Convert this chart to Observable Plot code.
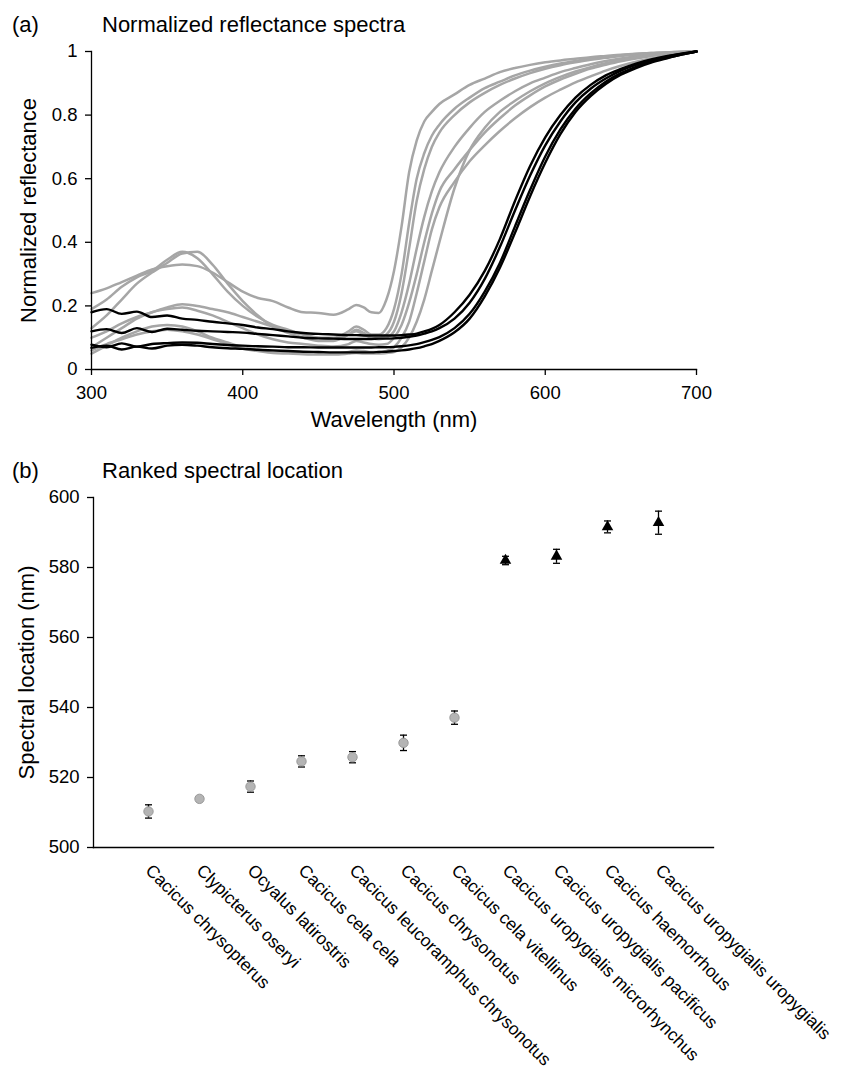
<!DOCTYPE html>
<html><head><meta charset="utf-8">
<script src="https://cdn.jsdelivr.net/npm/d3@7"></script>
<script src="https://cdn.jsdelivr.net/npm/@observablehq/plot@0.6"></script>
<style>
body{margin:0;background:#fff;font-family:"Liberation Sans",Arial,sans-serif;}
#wrap{position:relative;width:865px;height:1073px;overflow:hidden;background:#fff;}
.p{position:absolute;left:0;}
.t{position:absolute;font-size:22px;line-height:22px;white-space:nowrap;color:#000;font-family:"Liberation Sans",Arial,sans-serif;}
</style></head><body>
<div id="wrap">
  <div id="pa" class="p" style="top:0px"></div>
  <div id="pb" class="p" style="top:440px"></div>
  <div class="t" style="left:12px;top:14px">(a)</div>
  <div class="t" style="left:102px;top:14px">Normalized reflectance spectra</div>
  <div class="t" style="left:12px;top:460px">(b)</div>
  <div class="t" style="left:102px;top:460px">Ranked spectral location</div>
</div>
<script>
// ---------- Panel (a) data: normalized reflectance spectra ----------
const wavelengths = [300,310,320,330,340,350,360,370,380,390,400,410,420,430,440,450,460,470,475,480,485,490,495,500,505,510,515,520,525,530,540,550,560,570,580,590,600,610,620,630,640,650,660,670,680,690,700];

const gray1 = [0.24,0.255,0.275,0.295,0.315,0.325,0.33,0.325,0.305,0.275,
  0.245,0.225,0.215,0.195,0.18,0.178,0.172,0.19,
  0.203,0.195,0.18,0.178,0.22,0.31,0.45,0.62,0.72,0.78,0.81,0.835,
  0.865,0.895,0.915,0.935,0.948,0.958,0.966,0.972,0.977,0.982,0.986,0.99,0.993,0.995,0.997,0.998,1.0];
const gray2 = [0.19,0.22,0.26,0.29,0.31,0.345,0.37,0.35,0.3,0.245,
  0.2,0.165,0.14,0.125,0.11,0.1,0.1,0.12,
  0.135,0.125,0.11,0.11,0.13,0.19,0.3,0.46,0.6,0.68,0.735,0.77,
  0.82,0.855,0.885,0.905,0.925,0.94,0.952,0.962,0.97,0.977,0.983,0.988,0.992,0.995,0.997,0.999,1.0];
const gray3 = [0.13,0.17,0.22,0.27,0.305,0.335,0.365,0.37,0.33,0.27,
  0.215,0.17,0.135,0.115,0.1,0.09,0.09,0.11,
  0.125,0.115,0.1,0.1,0.11,0.15,0.24,0.38,0.53,0.63,0.7,0.745,
  0.8,0.84,0.87,0.895,0.915,0.932,0.946,0.957,0.966,0.974,0.98,0.986,0.99,0.994,0.997,0.999,1.0];
const gray4 = [0.1,0.12,0.145,0.165,0.18,0.195,0.205,0.2,0.19,0.18,
  0.165,0.15,0.135,0.12,0.11,0.1,0.095,0.11,
  0.12,0.11,0.1,0.095,0.1,0.12,0.18,0.27,0.38,0.48,0.56,0.62,
  0.7,0.76,0.81,0.845,0.875,0.9,0.918,0.935,0.948,0.96,0.97,0.978,0.985,0.99,0.995,0.998,1.0];
const gray5 = [0.07,0.1,0.13,0.16,0.18,0.19,0.195,0.185,0.17,0.15,
  0.13,0.11,0.095,0.085,0.08,0.075,0.072,0.08,
  0.09,0.085,0.08,0.078,0.08,0.1,0.14,0.21,0.3,0.4,0.49,0.56,
  0.63,0.69,0.745,0.79,0.83,0.862,0.89,0.912,0.93,0.946,0.958,0.969,0.978,0.986,0.992,0.997,1.0];
const gray6 = [0.05,0.075,0.1,0.12,0.135,0.14,0.135,0.12,0.1,0.085,
  0.07,0.062,0.058,0.055,0.052,0.05,0.05,0.055,
  0.06,0.058,0.055,0.055,0.058,0.07,0.1,0.15,0.24,0.34,0.44,0.51,
  0.59,0.655,0.705,0.75,0.79,0.825,0.855,0.88,0.903,0.922,0.94,0.955,0.968,0.978,0.988,0.995,1.0];
const gray7 = [0.06,0.08,0.095,0.11,0.12,0.125,0.12,0.11,0.095,0.08,
  0.065,0.058,0.052,0.05,0.048,0.047,0.047,0.05,
  0.052,0.05,0.05,0.05,0.052,0.055,0.07,0.1,0.15,0.22,0.31,0.4,
  0.57,0.69,0.76,0.81,0.845,0.875,0.9,0.92,0.937,0.951,0.963,0.973,0.981,0.988,0.993,0.997,1.0];

const black1 = [0.18,0.19,0.175,0.182,0.165,0.17,0.16,0.156,0.15,0.145,
  0.14,0.132,0.127,0.12,0.115,0.112,0.11,0.108,
  0.108,0.107,0.107,0.107,0.107,0.107,0.108,0.11,0.113,0.12,0.128,0.14,
  0.18,0.235,0.31,0.41,0.53,0.64,0.73,0.8,0.855,0.895,0.925,0.945,0.962,0.975,0.985,0.993,1.0];
const black2 = [0.12,0.127,0.115,0.13,0.118,0.128,0.125,0.122,0.12,0.118,
  0.116,0.112,0.108,0.104,0.1,0.098,0.097,0.096,
  0.096,0.096,0.096,0.097,0.097,0.098,0.1,0.103,0.107,0.113,0.12,0.13,
  0.16,0.21,0.285,0.385,0.5,0.61,0.705,0.78,0.84,0.883,0.915,0.94,0.958,0.972,0.983,0.992,1.0];
const black3 = [0.078,0.07,0.082,0.072,0.08,0.083,0.085,0.084,0.08,0.077,
  0.075,0.073,0.072,0.07,0.07,0.069,0.069,0.069,
  0.069,0.069,0.069,0.07,0.07,0.071,0.073,0.076,0.08,0.086,0.093,0.102,
  0.13,0.175,0.245,0.335,0.45,0.565,0.67,0.755,0.82,0.868,0.905,0.932,0.952,0.968,0.98,0.99,1.0];
const black4 = [0.068,0.075,0.063,0.072,0.066,0.075,0.078,0.075,0.07,0.067,
  0.065,0.062,0.06,0.058,0.056,0.055,0.054,0.054,
  0.054,0.054,0.054,0.055,0.056,0.058,0.06,0.063,0.067,0.073,0.08,0.09,
  0.117,0.16,0.23,0.32,0.43,0.545,0.65,0.74,0.81,0.86,0.898,0.927,0.948,0.965,0.978,0.99,1.0];

const xTicksA = [300,400,500,600,700];
const yTicksA = [0,0.2,0.4,0.6,0.8,1];

// ---------- Panel (b) data: ranked spectral location ----------
const taxa = ["Cacicus chrysopterus","Clypicterus oseryi","Ocyalus latirostris","Cacicus cela cela",
  "Cacicus leucoramphus chrysonotus","Cacicus chrysonotus","Cacicus cela vitellinus",
  "Cacicus uropygialis microrhynchus","Cacicus uropygialis pacificus","Cacicus haemorrhous",
  "Cacicus uropygialis uropygialis"];
const locations = [510.3,513.9,517.4,524.6,525.8,529.9,537.1,582.0,583.2,591.6,592.8];
const errors = [1.9,0,1.6,1.6,1.6,2.2,1.9,1.2,2.0,1.7,3.3];
const groups = ["gray","gray","gray","gray","gray","gray","gray","black","black","black","black"];
const yTicksB = [500,520,540,560,580,600];

// ---------- build tables ----------
function toRows(list, prefix) {
  return list.flatMap((vals, k) => vals.map((r, i) => ({wl: wavelengths[i], r, id: prefix + k})));
}
const grayRows = toRows([gray1,gray2,gray3,gray4,gray5,gray6,gray7], "g");
const blackRows = toRows([black1,black2,black3,black4], "b");

const taxaRows = taxa.map((t, i) => ({taxon: t, m: locations[i], e: errors[i], g: groups[i]}));
const errRows = taxaRows.filter(d => d.e > 0);

const FONT = "'Liberation Sans', Arial, sans-serif";

const plotA = Plot.plot({
  width: 865, height: 440,
  marginLeft: 91, marginRight: 169, marginTop: 51, marginBottom: 71,
  style: {fontFamily: FONT, fontSize: "18.5px", background: "none", color: "#000", overflow: "visible"},
  x: {domain: [300, 700]},
  y: {domain: [0, 1]},
  marks: [
    Plot.line(grayRows, {x: "wl", y: "r", z: "id", stroke: "#a6a6a6", strokeWidth: 2.5, curve: "monotone-x"}),
    Plot.line(blackRows, {x: "wl", y: "r", z: "id", stroke: "#000", strokeWidth: 2.4, curve: "monotone-x"}),
    Plot.frame({anchor: "left", stroke: "#000", strokeWidth: 1.3}),
    Plot.frame({anchor: "bottom", stroke: "#000", strokeWidth: 1.3}),
    Plot.axisX({ticks: xTicksA, tickSize: 6, tickPadding: 10, strokeWidth: 1.3, label: null, tickFormat: d => String(d)}),
    Plot.axisY({ticks: yTicksA, tickSize: 6, tickPadding: 8, strokeWidth: 1.3, label: null, tickFormat: d => String(d)}),
    Plot.text(["Wavelength (nm)"], {frameAnchor: "bottom", dy: 50, fontSize: 22, textAnchor: "middle", lineAnchor: "middle"}),
    Plot.text(["Normalized reflectance"], {frameAnchor: "left", dx: -63, rotate: -90, fontSize: 22, textAnchor: "middle", lineAnchor: "middle"})
  ]
});
document.getElementById("pa").appendChild(plotA);

const capSymbol = {draw(context) { context.moveTo(-3.5, 0); context.lineTo(3.5, 0); }};

const plotB = Plot.plot({
  width: 865, height: 633,
  marginLeft: 93, marginRight: 152, marginTop: 57, marginBottom: 226,
  style: {fontFamily: FONT, fontSize: "18px", background: "none", color: "#000", overflow: "visible"},
  x: {type: "point", domain: taxa, padding: 1},
  y: {domain: [500, 600]},
  marks: [
    Plot.ruleX(errRows, {x: "taxon", y1: d => d.m - d.e, y2: d => d.m + d.e, stroke: "#000", strokeWidth: 1.3}),
    Plot.dot(errRows, {x: "taxon", y: d => d.m + d.e, symbol: capSymbol, fill: "none", stroke: "#000", strokeWidth: 1.3}),
    Plot.dot(errRows, {x: "taxon", y: d => d.m - d.e, symbol: capSymbol, fill: "none", stroke: "#000", strokeWidth: 1.3}),
    Plot.dot(taxaRows.filter(d => d.g === "gray"), {x: "taxon", y: "m", r: 4.7, fill: "#b4b4b4", stroke: "#999", strokeWidth: 1}),
    Plot.dot(taxaRows.filter(d => d.g === "black"), {x: "taxon", y: "m", r: 4.3, symbol: "triangle", fill: "#000", stroke: "none"}),
    Plot.frame({anchor: "left", stroke: "#000", strokeWidth: 1.3}),
    Plot.frame({anchor: "bottom", stroke: "#000", strokeWidth: 1.3}),
    Plot.axisY({ticks: yTicksB, tickSize: 6, tickPadding: 8, strokeWidth: 1.3, label: null, fontSize: 18.5, tickFormat: d => String(d)}),
    Plot.axisX({tickSize: 0, tickRotate: 45, tickPadding: 20, textAnchor: "start", lineAnchor: "middle", label: null, fontSize: 17.5}),
    Plot.text(["Spectral location (nm)"], {frameAnchor: "left", dx: -67, rotate: -90, fontSize: 22, textAnchor: "middle", lineAnchor: "middle"})
  ]
});
document.getElementById("pb").appendChild(plotB);
</script>
</body></html>
